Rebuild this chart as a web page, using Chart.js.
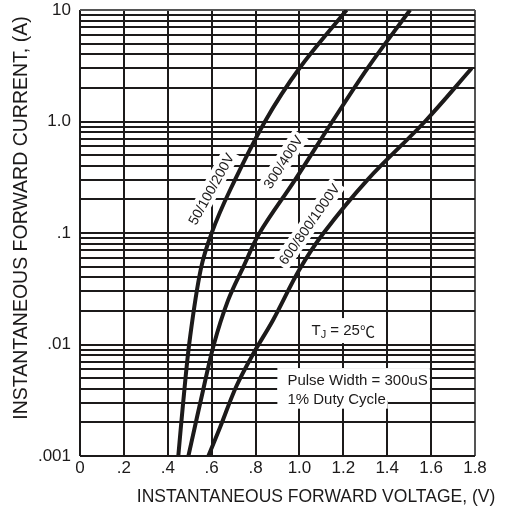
<!DOCTYPE html>
<html>
<head>
<meta charset="utf-8">
<script src="https://cdn.jsdelivr.net/npm/chart.js@4.4.0/dist/chart.umd.min.js"></script>
<style>
    html, body { margin: 0; padding: 0; background: #fff; }
</style>
</head>
<body>
<canvas id="myChart" width="507" height="518"></canvas>
<script>
// x axis: forward voltage (V)
const voltTicks = [0, 0.2, 0.4, 0.6, 0.8, 1.0, 1.2, 1.4, 1.6, 1.8];
const voltLabels = ["0", ".2", ".4", ".6", ".8", "1.0", "1.2", "1.4", "1.6", "1.8"];

// y axis: forward current (A), log scale
const currentDecades = [0.001, 0.01, 0.1, 1, 10];
const currentLabels = [".001", ".01", ".1", "1.0", "10"];
const gridMultipliers = [1, 2, 3, 4, 5, 6, 7, 8, 9];

// curves
const seriesNames = ["50/100/200V", "300/400V", "600/800/1000V"];
const curve1V = [0.448, 0.47, 0.50, 0.55, 0.60, 0.684, 0.843, 1.0, 1.215];
const curve1I = [0.001, 0.003, 0.011, 0.047, 0.1, 0.243, 1.0, 3.0, 10];
const curve2V = [0.494, 0.52, 0.548, 0.61, 0.675, 0.745, 0.818, 0.98, 1.15, 1.31, 1.504];
const curve2I = [0.001, 0.0017, 0.003, 0.01, 0.025, 0.05, 0.1, 0.3, 1.0, 3.0, 10];
const curve3V = [0.585, 0.638, 0.712, 0.79, 0.88, 1.0, 1.11, 1.31, 1.572, 1.785];
const curve3I = [0.001, 0.0018, 0.0042, 0.0083, 0.0166, 0.047, 0.1, 0.3, 1.0, 3.0];

const FONT = "'Liberation Sans', Arial, 'DejaVu Sans', 'Noto Sans CJK SC', sans-serif";
const INK = "#1c1a1a";

function toPoints(vs, is) {
    return vs.map((v, i) => ({ x: v, y: is[i] }));
}

// grid values for the log axis: 1..9 in every decade, plus the top
let currentGrid = [];
currentDecades.slice(0, -1).forEach(d => {
    gridMultipliers.forEach(m => currentGrid.push(+(d * m).toPrecision(3)));
});
currentGrid.push(currentDecades[currentDecades.length - 1]);

function lineDataset(label, vs, is) {
    return {
        label: label,
        data: toPoints(vs, is),
        borderColor: INK,
        borderWidth: 4,
        pointRadius: 0,
        tension: 0.35,
        fill: false
    };
}

// text notes drawn on the plot, with a white box behind them
const notesPlugin = {
    id: "notes",
    beforeDatasetsDraw(chart) {
        const ctx = chart.ctx;
        const xs = chart.scales.x, ys = chart.scales.y;

        // rotated labels along the curves
        const curveLabels = [
            { text: seriesNames[0], v: 0.597, i: 0.248, angle: -61 },
            { text: seriesNames[1], v: 0.925, i: 0.434, angle: -57 },
            { text: seriesNames[2], v: 1.044, i: 0.12, angle: -55 }
        ];
        ctx.save();
        ctx.font = "14px " + FONT;
        ctx.textAlign = "center";
        ctx.textBaseline = "middle";
        curveLabels.forEach(l => {
            const px = xs.getPixelForValue(l.v);
            const py = ys.getPixelForValue(l.i);
            const w = ctx.measureText(l.text).width;
            ctx.save();
            ctx.translate(px, py);
            ctx.rotate(l.angle * Math.PI / 180);
            ctx.fillStyle = "#fff";
            ctx.fillRect(-w / 2 - 3, -9, w + 6, 18);
            ctx.fillStyle = INK;
            ctx.fillText(l.text, 0, 1);
            ctx.restore();
        });
        ctx.restore();

        // T_J = 25℃
        ctx.save();
        let tx = xs.getPixelForValue(1.055);
        let ty = ys.getPixelForValue(0.0132);
        ctx.fillStyle = "#fff";
        ctx.fillRect(tx - 5, ty - 13, 70, 25);
        ctx.fillStyle = INK;
        ctx.textBaseline = "middle";
        ctx.textAlign = "left";
        ctx.font = "15px " + FONT;
        ctx.fillText("T", tx, ty);
        let off = ctx.measureText("T").width;
        ctx.font = "11px " + FONT;
        ctx.fillText("J", tx + off, ty + 4);
        off += ctx.measureText("J").width;
        ctx.font = "15px " + FONT;
        ctx.fillText(" = 25", tx + off, ty);
        off += ctx.measureText(" = 25").width;
        ctx.font = "15px 'Noto Sans CJK SC', " + FONT;
        ctx.fillText("℃", tx + off, ty);
        ctx.restore();

        // pulse note, two lines
        ctx.save();
        const px = xs.getPixelForValue(0.945);
        const py1 = ys.getPixelForValue(0.0047);
        const py2 = ys.getPixelForValue(0.0032);
        ctx.font = "15px " + FONT;
        ctx.textBaseline = "middle";
        ctx.textAlign = "left";
        const l1 = "Pulse Width = 300uS", l2 = "1% Duty Cycle";
        const w1 = ctx.measureText(l1).width, w2 = ctx.measureText(l2).width;
        ctx.fillStyle = "#fff";
        ctx.fillRect(px - 10, py1 - 13, w1 + 12, (py2 - py1) + 14);
        ctx.fillRect(px - 10, py1, w2 + 12, (py2 - py1) + 9);
        ctx.fillStyle = INK;
        ctx.fillText(l1, px, py1);
        ctx.fillText(l2, px, py2);
        ctx.restore();
    },
    afterDraw(chart) {
        // axis titles, placed as in the original sheet
        const ctx = chart.ctx;
        ctx.save();
        ctx.fillStyle = INK;
        ctx.textAlign = "center";
        ctx.textBaseline = "middle";
        ctx.font = "17.5px " + FONT;
        ctx.fillText("INSTANTANEOUS FORWARD VOLTAGE, (V)", 316, 497);
        ctx.translate(22, 218);
        ctx.rotate(-Math.PI / 2);
        ctx.font = "19.5px " + FONT;
        ctx.fillText("INSTANTANEOUS FORWARD CURRENT, (A)", 0, 0);
        ctx.restore();
    }
};

const chartConfig = {
    type: "line",
    data: {
        datasets: [
            lineDataset(seriesNames[0], curve1V, curve1I),
            lineDataset(seriesNames[1], curve2V, curve2I),
            lineDataset(seriesNames[2], curve3V, curve3I)
        ]
    },
    options: {
        responsive: false,
        animation: false,
        devicePixelRatio: 1,
        layout: {
            padding: { left: 0, right: 32, top: 10, bottom: 0 }
        },
        plugins: {
            legend: { display: false },
            tooltip: { enabled: false }
        },
        scales: {
            x: {
                type: "linear",
                min: 0,
                max: 1.8,
                afterBuildTicks: scale => {
                    scale.ticks = voltTicks.map(v => ({ value: v }));
                },
                afterFit: scale => { scale.height = 62; },
                border: { display: false },
                grid: {
                    drawTicks: false,
                    lineWidth: 2,
                    color: c => (c.tick && c.tick.value === 1.8) ? "#555" : INK
                },
                ticks: {
                    autoSkip: false,
                    maxRotation: 0,
                    padding: 2,
                    color: INK,
                    font: { family: FONT, size: 17 },
                    callback: (value, index) => voltLabels[index]
                }
            },
            y: {
                type: "logarithmic",
                min: 0.001,
                max: 10,
                afterBuildTicks: scale => {
                    scale.ticks = currentGrid.map(v => ({ value: v }));
                },
                afterFit: scale => {
                    scale.width = 80;
                    scale.paddingTop = 0;
                    scale.paddingBottom = 0;
                },
                border: { display: false },
                grid: {
                    drawTicks: false,
                    lineWidth: 2,
                    color: c => (c.tick && c.tick.value === 10) ? "#555" : INK
                },
                ticks: {
                    autoSkip: false,
                    padding: 9,
                    color: INK,
                    font: { family: FONT, size: 17 },
                    callback: value => {
                        const k = currentDecades.findIndex(d => Math.abs(Math.log10(value) - Math.log10(d)) < 1e-6);
                        return k >= 0 ? currentLabels[k] : "";
                    }
                }
            }
        }
    },
    plugins: [notesPlugin]
};

new Chart(document.getElementById("myChart"), chartConfig);
</script>
</body>
</html>
